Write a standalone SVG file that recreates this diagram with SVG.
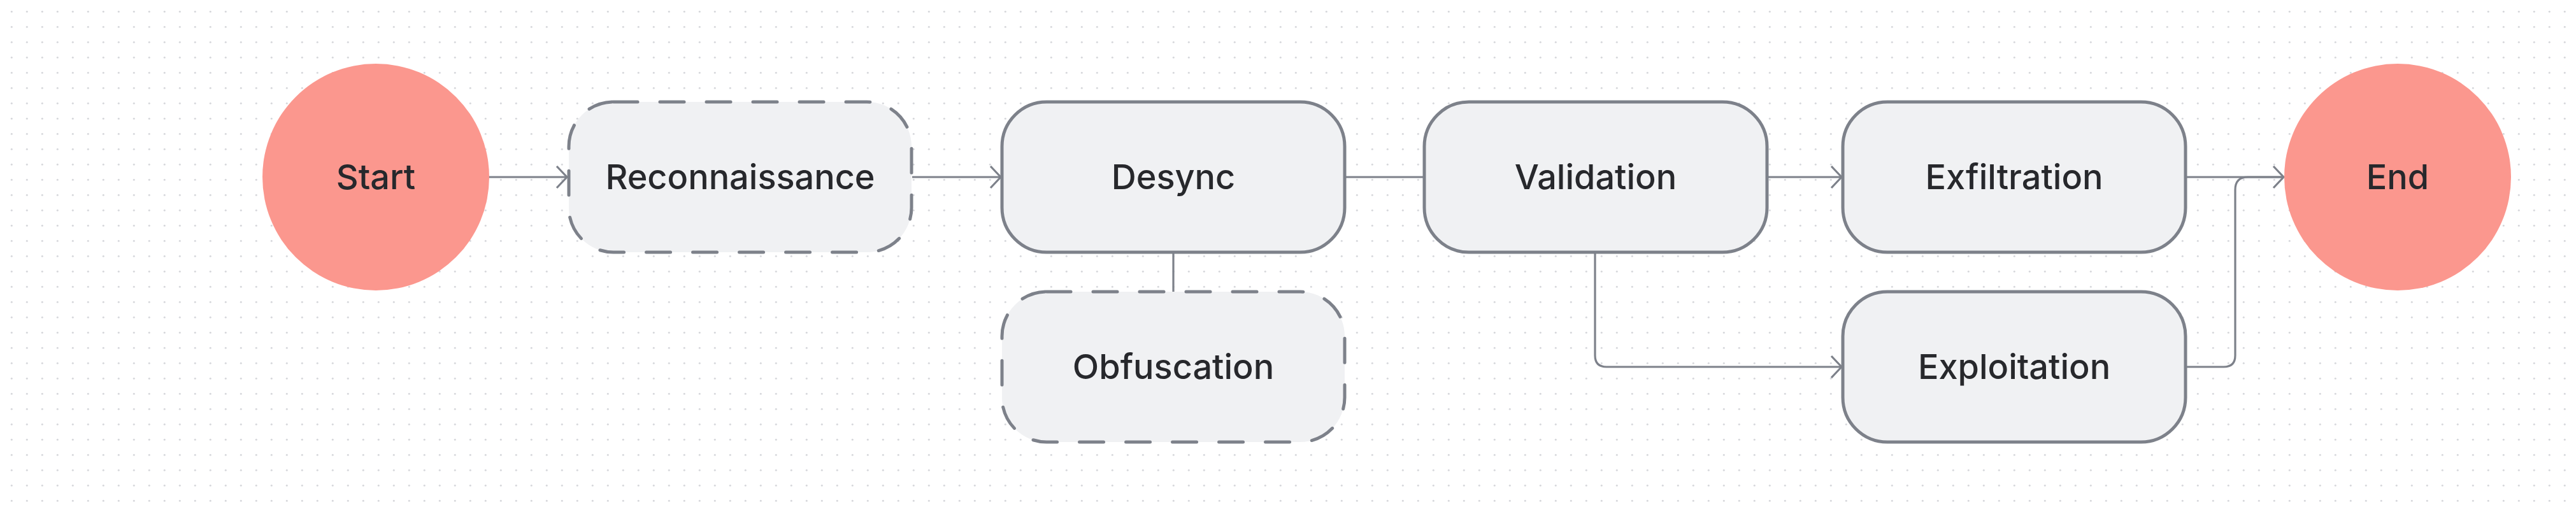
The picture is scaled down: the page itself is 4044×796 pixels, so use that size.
<svg xmlns="http://www.w3.org/2000/svg" width="4044" height="796" viewBox="0 0 4044 796">
<defs>
<pattern id="dots" x="0" y="0" width="24" height="24" patternUnits="userSpaceOnUse">
<circle cx="18.3" cy="18.3" r="1.5" fill="#d6d7db"/>
</pattern>
<marker id="arrow" viewBox="-20 -20 24 40" markerWidth="24" markerHeight="40" refX="0" refY="0" orient="auto" markerUnits="userSpaceOnUse">
<path d="M -16 -17 L 0 0 L -16 17" fill="none" stroke="#7d818a" stroke-width="3.2"/>
</marker>
<style>
.box { fill: #f0f1f3; stroke: #7d818a; stroke-width: 5; }
.dash { stroke-dasharray: 38 35; stroke-linecap: round; }
.term { fill: #fb978e; }
.lbl { font-family: Inter, "Liberation Sans", sans-serif; font-size: 54px; font-weight: 500; fill: #27282c; text-anchor: middle; }
.edge { fill: none; stroke: #7d818a; stroke-width: 3.2; }
.arr { marker-end: url(#arrow); }
</style>
</defs>
<rect width="4044" height="796" fill="#ffffff"/>
<rect width="4044" height="796" fill="url(#dots)"/>
<g id="connectors">
<path class="edge arr" d="M 767 278 L 890 278"/>
<path class="edge arr" d="M 1432 278 L 1571 278"/>
<path class="edge" d="M 2111 278 L 2236 278"/>
<path class="edge" d="M 1842 396 L 1842 458"/>
<path class="edge arr" d="M 2773 278 L 2891 278"/>
<path class="edge arr" d="M 2504 396 L 2504 558 Q 2504 576 2522 576 L 2891 576"/>
<path class="edge arr" d="M 3431 278 L 3585 278"/>
<path class="edge" d="M 3431 576 L 3491 576 Q 3509 576 3509 558 L 3509 298 Q 3509 278 3529 278 L 3585 278"/>
</g>
<g id="node-start">
<circle class="term" cx="590" cy="278" r="178"/>
<text class="lbl" x="590" y="297">Start</text>
</g>
<g id="node-reconnaissance">
<rect class="box dash" x="893" y="160" width="538" height="236" rx="70"/>
<text class="lbl" x="1162" y="297">Reconnaissance</text>
</g>
<g id="node-desync">
<rect class="box" x="1573" y="160" width="538" height="236" rx="70"/>
<text class="lbl" x="1842" y="297">Desync</text>
</g>
<g id="node-obfuscation">
<rect class="box dash" x="1573" y="458" width="538" height="236" rx="70"/>
<text class="lbl" x="1842" y="595">Obfuscation</text>
</g>
<g id="node-validation">
<rect class="box" x="2236" y="160" width="538" height="236" rx="70"/>
<text class="lbl" x="2505" y="297">Validation</text>
</g>
<g id="node-exfiltration">
<rect class="box" x="2893" y="160" width="538" height="236" rx="70"/>
<text class="lbl" x="3162" y="297">Exfiltration</text>
</g>
<g id="node-exploitation">
<rect class="box" x="2893" y="458" width="538" height="236" rx="70"/>
<text class="lbl" x="3162" y="595">Exploitation</text>
</g>
<g id="node-end">
<circle class="term" cx="3764" cy="278" r="178"/>
<text class="lbl" x="3764" y="297">End</text>
</g>
</svg>
